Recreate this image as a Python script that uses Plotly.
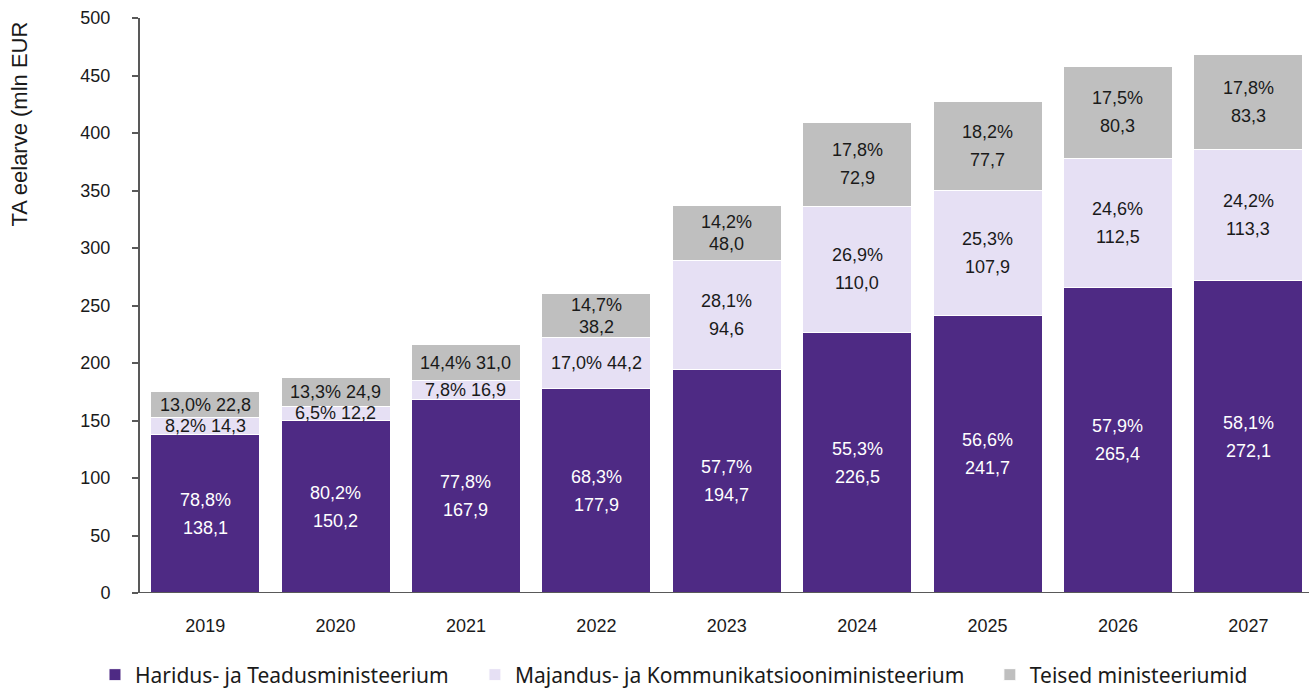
import plotly.graph_objects as go

years = ["2019", "2020", "2021", "2022", "2023", "2024", "2025", "2026", "2027"]
haridus = [138.1, 150.2, 167.9, 177.9, 194.7, 226.5, 241.7, 265.4, 272.1]
majandus = [14.3, 12.2, 16.9, 44.2, 94.6, 110.0, 107.9, 112.5, 113.3]
teised = [22.8, 24.9, 31.0, 38.2, 48.0, 72.9, 77.7, 80.3, 83.3]
haridus_pct = [78.8, 80.2, 77.8, 68.3, 57.7, 55.3, 56.6, 57.9, 58.1]
majandus_pct = [8.2, 6.5, 7.8, 17.0, 28.1, 26.9, 25.3, 24.6, 24.2]
teised_pct = [13.0, 13.3, 14.4, 14.7, 14.2, 17.8, 18.2, 17.5, 17.8]

names = ["Haridus- ja Teadusministeerium",
         "Majandus- ja Kommunikatsiooniministeerium",
         "Teised ministeeriumid"]
colors = ["#4E2A84", "#E6E0F4", "#BFBFBF"]

def fmt(v):
    return f"{v:.1f}".replace(".", ",")

fig = go.Figure()
series = [haridus, majandus, teised]
legends = ["legend", "legend2", "legend3"]
for s, n, c, lg in zip(series, names, colors, legends):
    fig.add_trace(go.Bar(x=years, y=s, name=n, marker=dict(color=c, line=dict(color="white", width=1)),
                         legend=lg))

LABEL_FONT = "Liberation Sans, Arial, sans-serif"
ann = []
pcts = [haridus_pct, majandus_pct, teised_pct]
for i, y in enumerate(years):
    base = 0.0
    for k in range(3):
        v = series[k][i]
        p = pcts[k][i]
        mid = base + v / 2
        base += v
        col = "white" if k == 0 else "#1A1A1A"
        f = dict(family=LABEL_FONT, size=18, color=col)
        if v < 47 and not (k == 2 and v >= 38):
            ann.append(dict(x=i, y=mid, xref="x", yref="y", text=f"{fmt(p)}% {fmt(v)}",
                            showarrow=False, font=f))
        else:
            d = 11 if (k == 2 and v < 50) else 14
            ann.append(dict(x=i, y=mid, xref="x", yref="y", text=f"{fmt(p)}%",
                            showarrow=False, font=f, yshift=d))
            ann.append(dict(x=i, y=mid, xref="x", yref="y", text=fmt(v),
                            showarrow=False, font=f, yshift=-d))

ann.append(dict(x=-0.1, y=1.0, xref="paper", yref="paper", xanchor="center", yanchor="top",
                xshift=-4, yshift=-2, text="TA eelarve (mln EUR", textangle=-90, showarrow=False,
                font=dict(family=LABEL_FONT, size=22, color="#1A1A1A")))

axis_col = "#595959"
leg_font = dict(family="Noto Sans, sans-serif", size=21, color="#1A1A1A")
ly = -0.1426
fig.update_layout(
    width=1309, height=688,
    margin=dict(l=140, r=0, t=18, b=95, autoexpand=False),
    paper_bgcolor="white", plot_bgcolor="white",
    barmode="stack", bargap=0.165,
    showlegend=True,
    legend=dict(x=-0.0385, y=ly, xanchor="left", yanchor="middle", orientation="h", font=leg_font, bgcolor="rgba(0,0,0,0)"),
    legend2=dict(x=0.2865, y=ly, xanchor="left", yanchor="middle", orientation="h", font=leg_font, bgcolor="rgba(0,0,0,0)"),
    legend3=dict(x=0.727, y=ly, xanchor="left", yanchor="middle", orientation="h", font=leg_font, bgcolor="rgba(0,0,0,0)"),
    annotations=ann,
    xaxis=dict(type="category", range=[-0.5, 8.465], showline=False, ticks="", showgrid=False, zeroline=False,
               tickfont=dict(family=LABEL_FONT, size=18, color="#1A1A1A"), ticklabelstandoff=20,
               automargin=False, fixedrange=True),
    yaxis=dict(range=[0, 500], dtick=50, showline=True, linecolor=axis_col, linewidth=2,
               ticks="outside", ticklen=6, tickwidth=2, tickcolor=axis_col, showgrid=False,
               zeroline=False, tickfont=dict(family=LABEL_FONT, size=18, color="#1A1A1A"),
               ticklabelstandoff=18, automargin=False),
    shapes=[dict(type="line", xref="paper", yref="y", x0=-8/1169, x1=1, y0=0, y1=0,
                 line=dict(color=axis_col, width=2))],
)

fig.write_html("out.html", config={"displayModeBar": False})
with open("out.html", "r", encoding="utf-8") as fh:
    html = fh.read()
html = html.replace("<head>", "<head><style>html,body{margin:0;padding:0;overflow:hidden;}</style>", 1)
with open("out.html", "w", encoding="utf-8") as fh:
    fh.write(html)
